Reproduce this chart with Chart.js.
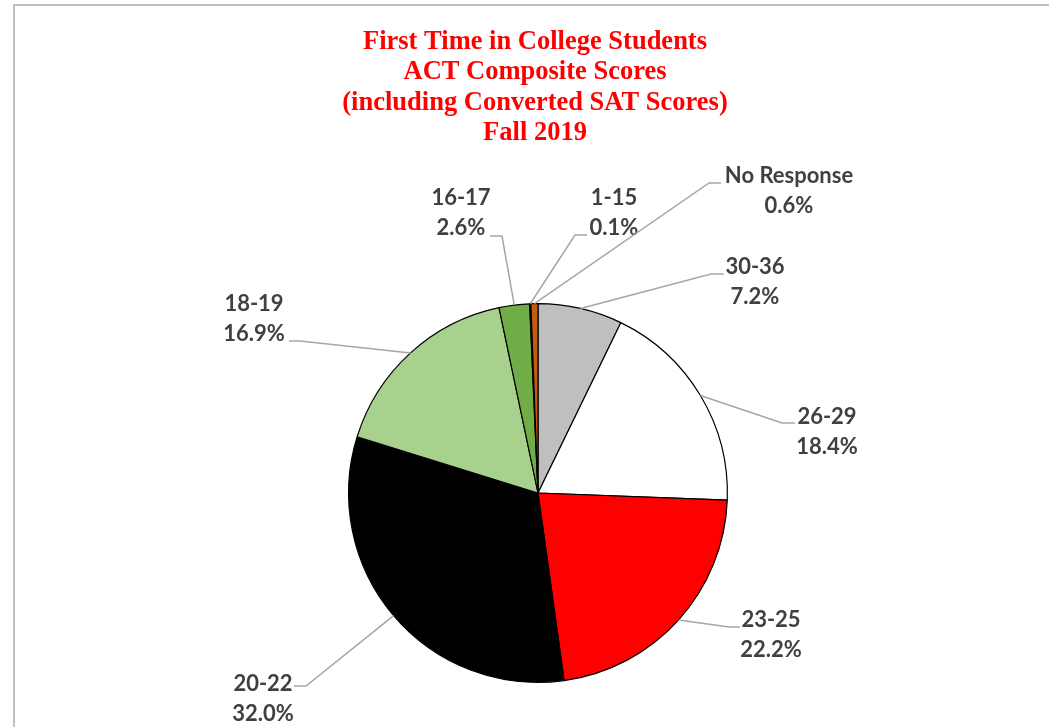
<!DOCTYPE html>
<html>
<head>
<meta charset="utf-8">
<script src="https://cdn.jsdelivr.net/npm/chart.js@4.4.0/dist/chart.umd.min.js"></script>
<style>
  html, body { margin: 0; padding: 0; background: #ffffff; }
  #wrap { position: relative; width: 1049px; height: 727px; }
  canvas { display: block; }
</style>
</head>
<body>
<div id="wrap"><canvas id="c" width="1049" height="727"></canvas></div>
<script>
// ---- data ----
const categories = ["30-36", "26-29", "23-25", "20-22", "18-19", "16-17", "1-15", "No Response"];
const percents = [7.2, 18.4, 22.2, 32.0, 16.9, 2.6, 0.1, 0.6];
const titleLines = ["First Time in College Students", "ACT Composite Scores", "(including Converted SAT Scores)", "Fall 2019"];

// ---- styles ----
const sliceColors = ["#BFBFBF", "#FFFFFF", "#FF0000", "#000000", "#A9D18E", "#70AD47", "#FFC000", "#C55A11"];
// label layout (text block centre, leader elbow, leader end at text side)
const labelLayout = [
  { tx: 755, ty: 282, ex: 711, ey: 274, hx: 724 },
  { tx: 827, ty: 432, ex: 782, ey: 423, hx: 795 },
  { tx: 771, ty: 635, ex: 729, ey: 627, hx: 740 },
  { tx: 263, ty: 699, ex: 306, ey: 686, hx: 294 },
  { tx: 254, ty: 319, ex: 300, ey: 341, hx: 289 },
  { tx: 461, ty: 213, ex: 502, ey: 236, hx: 490 },
  { tx: 614, ty: 213, ex: 575, ey: 235, hx: 587 },
  { tx: 789, ty: 191, ex: 709, ey: 183, hx: 721 }
];

const decor = {
  id: 'decor',
  beforeDraw(chart) {
    const ctx = chart.ctx;
    ctx.save();
    ctx.fillStyle = '#ffffff';
    ctx.fillRect(0, 0, chart.width, chart.height);
    ctx.strokeStyle = '#BFBFBF';
    ctx.lineWidth = 2;
    ctx.beginPath();
    ctx.moveTo(14, chart.height + 5);
    ctx.lineTo(14, 5);
    ctx.lineTo(chart.width + 5, 5);
    ctx.stroke();
    ctx.restore();
  },
  afterDraw(chart) {
    const ctx = chart.ctx;
    ctx.save();
    // title
    ctx.fillStyle = '#FF0000';
    ctx.font = 'bold 26.5px "Liberation Serif", "Times New Roman", serif';
    ctx.textAlign = 'center';
    ctx.textBaseline = 'middle';
    const titleY = [42, 72, 103, 133];
    titleLines.forEach((t, i) => ctx.fillText(t, 535, titleY[i]));

    // leaders and labels
    const meta = chart.getDatasetMeta(0);
    meta.data.forEach((arc, i) => {
      const L = labelLayout[i];
      const mid = (arc.startAngle + arc.endAngle) / 2;
      const sx = arc.x + Math.cos(mid) * arc.outerRadius;
      const sy = arc.y + Math.sin(mid) * arc.outerRadius;
      ctx.strokeStyle = '#A6A6A6';
      ctx.lineWidth = 1.5;
      ctx.beginPath();
      ctx.moveTo(sx, sy);
      ctx.lineTo(L.ex, L.ey);
      ctx.lineTo(L.hx, L.ey);
      ctx.stroke();
      ctx.fillStyle = '#404040';
      ctx.font = 'bold 22px Lato, "Open Sans", sans-serif';
      ctx.textAlign = 'center';
      ctx.textBaseline = 'middle';
      ctx.fillText(categories[i], L.tx, L.ty - 15);
      ctx.fillText(percents[i].toFixed(1) + '%', L.tx, L.ty + 15);
    });
    ctx.restore();
  }
};

new Chart(document.getElementById('c'), {
  type: 'pie',
  data: {
    labels: categories,
    datasets: [{
      data: percents,
      backgroundColor: sliceColors,
      borderColor: '#000000',
      borderWidth: 1.2
    }]
  },
  options: {
    responsive: false,
    animation: false,
    layout: { padding: { left: 348, right: 321, top: 303, bottom: 44 } },
    plugins: {
      legend: { display: false },
      title: { display: false },
      tooltip: { enabled: false }
    }
  },
  plugins: [decor]
});
</script>
</body>
</html>
